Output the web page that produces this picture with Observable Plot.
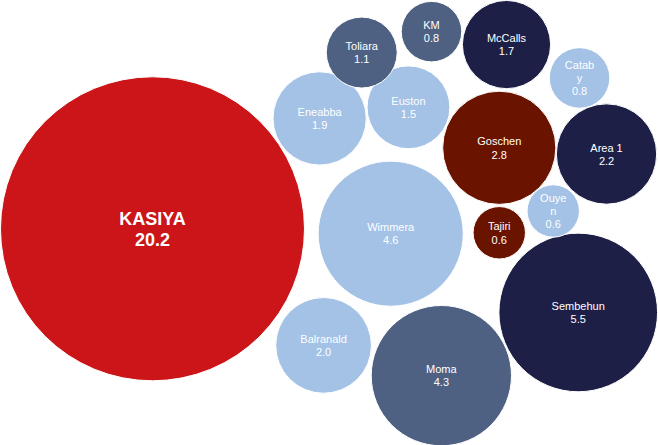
<!DOCTYPE html>
<html>
<head>
<meta charset="utf-8">
<script src="https://cdn.jsdelivr.net/npm/d3@7"></script>
<script src="https://cdn.jsdelivr.net/npm/@observablehq/plot@0.6"></script>
<style>
  html, body { margin: 0; padding: 0; background: #ffffff; }
  #chart { width: 658px; height: 445px; }
</style>
</head>
<body>
<div id="chart"></div>
<script>
// Project names as labelled on the chart (line breaks as shown)
const names = ["KASIYA", "Eneabba", "Toliara", "KM", "McCalls", "Catab\ny", "Euston", "Goschen",
               "Area 1", "Wimmera", "Ouye\nn", "Tajiri", "Sembehun", "Balranald", "Moma"];
// Bubble values (labelled)
const values = [20.2, 1.9, 1.1, 0.8, 1.7, 0.8, 1.5, 2.8, 2.2, 4.6, 0.6, 0.6, 5.5, 2.0, 4.3];
// Bubble chart X / Y values (hidden axes, 0–100 units)
const xValues = [23.1, 48.5, 54.9, 65.5, 76.9, 88.0, 62.0, 75.8, 92.1, 59.3, 84.0, 75.8, 87.8, 49.1, 67.0];
const yValues = [48.7, 73.5, 88.3, 93.0, 90.1, 82.6, 76.0, 66.9, 65.5, 47.6, 52.7, 47.8, 29.9, 22.5, 15.7];
// Peer group of each project
const groups = ["Kasiya", "Group A", "Group B", "Group B", "Group C", "Group A", "Group A", "Group D",
                "Group C", "Group A", "Group A", "Group D", "Group C", "Group A", "Group B"];

const data = names.map((name, i) => ({
  name, value: values[i], x: xValues[i], y: yValues[i], group: groups[i]
}));

const font = "'Liberation Sans', Arial, sans-serif";

const chart = Plot.plot({
  width: 658,
  height: 445,
  margin: 0,
  x: { domain: [0, 100], axis: null },
  y: { domain: [0, 100], axis: null },
  r: { type: "sqrt", domain: [0, 20.2], range: [0, 152] },
  color: {
    domain: ["Kasiya", "Group A", "Group B", "Group C", "Group D"],
    range: ["#CB1518", "#A3C2E6", "#4F6183", "#1E1F47", "#6A1400"]
  },
  style: { background: "#ffffff", fontFamily: font },
  marks: [
    Plot.dot(data, { x: "x", y: "y", r: "value", fill: "group", stroke: "#ffffff", strokeWidth: 1 }),
    Plot.text(data.filter(d => d.name !== "KASIYA"), {
      x: "x", y: "y",
      text: d => `${d.name}\n${d.value.toFixed(1)}`,
      fill: "#ffffff", fontSize: 11, lineHeight: 1.2, fontFamily: font
    }),
    Plot.text(data.filter(d => d.name === "KASIYA"), {
      x: "x", y: "y",
      text: d => `${d.name}\n${d.value.toFixed(1)}`,
      fill: "#ffffff", fontSize: 18, fontWeight: "bold", lineHeight: 1.18, fontFamily: font
    })
  ]
});
document.getElementById("chart").appendChild(chart);
</script>
</body>
</html>
